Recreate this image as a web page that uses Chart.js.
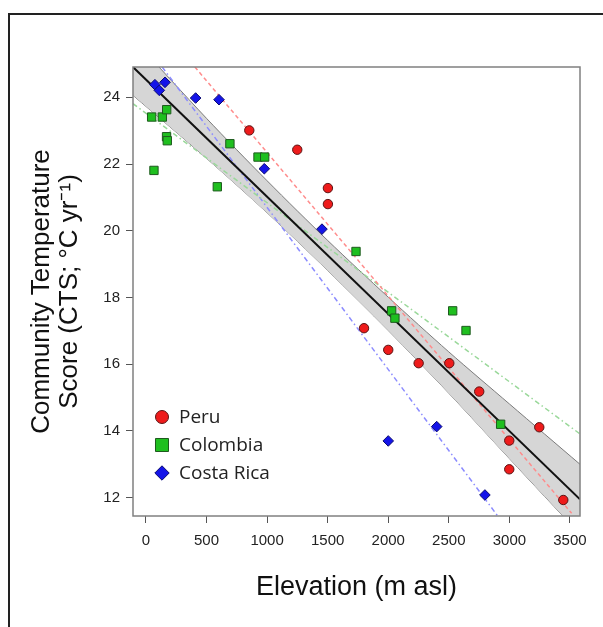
<!DOCTYPE html>
<html>
<head>
<meta charset="utf-8">
<script src="https://cdn.jsdelivr.net/npm/chart.js@4.4.1/dist/chart.umd.min.js"></script>
<style>
    html, body { margin: 0; padding: 0; background: #fff; overflow: hidden; }
    #frame { position: absolute; left: 8px; top: 13px; width: 640px; height: 660px; border: 2px solid #222; }
    #cts { position: absolute; left: 0; top: 0; }
</style>
</head>
<body>
<div id="frame"></div>
<canvas id="cts" width="603" height="627"></canvas>
<script>
// elevation (m asl) / community temperature score
const peruElev = [853, 1249, 1502, 1502, 1800, 2000, 2251, 2504, 2751, 3247, 2999, 2999, 3445];
const peruCts = [23.01, 22.43, 21.28, 20.80, 17.08, 16.43, 16.03, 16.03, 15.18, 14.11, 13.71, 12.85, 11.93];

const colombiaElev = [47, 135, 171, 170, 176, 66, 589, 693, 925, 980, 1734, 2028, 2055, 2532, 2642, 2928];
const colombiaCts = [23.41, 23.41, 23.63, 22.82, 22.70, 21.81, 21.32, 22.61, 22.21, 22.21, 19.38, 17.60, 17.38, 17.60, 17.01, 14.20];

const costaRicaElev = [74, 110, 157, 410, 603, 977, 1453, 2000, 2400, 2798];
const costaRicaCts = [24.38, 24.21, 24.45, 23.98, 23.93, 21.86, 20.05, 13.70, 14.13, 12.08];

// fitted lines (end points) and the confidence band of the pooled fit
const fitElev = [-107, 3583];
const fitCts = [24.91, 11.95];
const peruFitElev = [404, 3514];
const peruFitCts = [24.91, 11.53];
const colombiaFitElev = [-107, 3583];
const colombiaFitCts = [23.81, 13.91];
const costaRicaFitElev = [134, 2908];
const costaRicaFitCts = [24.91, 11.43];

const bandElev = [-107, 500, 1000, 1500, 2000, 2500, 3000, 3583];
const bandUpper = [25.76, 23.37, 21.50, 19.71, 18.01, 16.37, 14.81, 13.00];
const bandLower = [24.06, 22.17, 20.54, 18.81, 17.01, 15.13, 13.17, 10.90];

const xTicks = [0, 500, 1000, 1500, 2000, 2500, 3000, 3500];
const yTicks = [12, 14, 16, 18, 20, 22, 24];
const legendNames = ['Peru', 'Colombia', 'Costa Rica'];

const sans = 'Liberation Sans, Arial, Helvetica, sans-serif';

function pairs(xs, ys) {
    return xs.map((x, i) => ({ x: x, y: ys[i] }));
}

function fitLine(xs, ys, color, dash, width, order) {
    return {
        type: 'line',
        data: pairs(xs, ys),
        borderColor: color,
        borderWidth: width,
        borderDash: dash,
        pointRadius: 0,
        fill: false,
        tension: 0,
        order: order,
    };
}

const insetLegend = {
    id: 'insetLegend',
    afterDatasetsDraw(chart) {
        const ctx = chart.ctx;
        const area = chart.chartArea;
        const radii = [6.5, 9.2, 7.2];
        ctx.save();
        legendNames.forEach((name, i) => {
            const ds = chart.data.datasets[i];
            const cx = area.left + 29;
            const cy = area.bottom - 99 + i * 28;
            ctx.fillStyle = ds.backgroundColor;
            ctx.strokeStyle = ds.borderColor;
            ctx.lineWidth = 1;
            Chart.helpers.drawPoint(ctx, { pointStyle: ds.pointStyle, radius: radii[i], borderWidth: 1, rotation: 0 }, cx, cy);
            ctx.fillStyle = '#222';
            ctx.font = '19px "Open Sans", sans-serif';
            ctx.textAlign = 'left';
            ctx.textBaseline = 'middle';
            ctx.fillText(name, cx + 17, cy + 1);
        });
        ctx.restore();
    },
    afterDraw(chart) {
        const ctx = chart.ctx;
        const a = chart.chartArea;
        ctx.save();
        ctx.strokeStyle = '#808080';
        ctx.lineWidth = 1.5;
        ctx.strokeRect(a.left, a.top, a.right - a.left, a.bottom - a.top);
        ctx.restore();
    }
};

new Chart(document.getElementById('cts'), {
    type: 'scatter',
    data: {
        datasets: [
            {
                label: 'Peru',
                data: pairs(peruElev, peruCts),
                pointStyle: 'circle',
                pointRadius: 4.7,
                backgroundColor: '#ee1b1b',
                borderColor: '#5a1414',
                borderWidth: 1,
                order: 0,
            },
            {
                label: 'Colombia',
                data: pairs(colombiaElev, colombiaCts),
                pointStyle: 'rect',
                pointRadius: 5.9,
                backgroundColor: '#1fbf1f',
                borderColor: '#1e5a1e',
                borderWidth: 1,
                order: 0,
            },
            {
                label: 'Costa Rica',
                data: pairs(costaRicaElev, costaRicaCts),
                pointStyle: 'rectRot',
                pointRadius: 5.3,
                backgroundColor: '#1414e8',
                borderColor: '#0a0a70',
                borderWidth: 1,
                order: 0,
            },
            fitLine(fitElev, fitCts, '#111', [], 2, 1),
            fitLine(peruFitElev, peruFitCts, '#ff8c8c', [4, 3], 1.5, 2),
            fitLine(colombiaFitElev, colombiaFitCts, '#9ad89a', [5, 3, 1.5, 3], 1.5, 2),
            fitLine(costaRicaFitElev, costaRicaFitCts, '#8c8cff', [5, 3, 1.5, 3], 1.5, 2),
            {
                type: 'line',
                data: pairs(bandElev, bandUpper),
                borderColor: '#7a7a7a',
                borderWidth: 1,
                backgroundColor: '#d6d6d6',
                pointRadius: 0,
                fill: '+1',
                tension: 0.3,
                order: 3,
            },
            {
                type: 'line',
                data: pairs(bandElev, bandLower),
                borderColor: '#7a7a7a',
                borderWidth: 1,
                pointRadius: 0,
                fill: false,
                tension: 0.3,
                order: 3,
            }
        ]
    },
    options: {
        responsive: false,
        animation: false,
        layout: {
            padding: { top: 67, right: 23, left: 0, bottom: 0 }
        },
        plugins: {
            legend: { display: false },
            tooltip: { enabled: false },
        },
        scales: {
            x: {
                type: 'linear',
                min: -107,
                max: 3583,
                afterBuildTicks: scale => {
                    scale.ticks = xTicks.map(v => ({ value: v }));
                },
                afterFit: scale => {
                    scale.height = 111;
                },
                ticks: {
                    font: { family: sans, size: 15 },
                    color: '#222',
                    padding: 9,
                    maxRotation: 0,
                    autoSkip: false,
                    callback: v => String(v),
                },
                grid: {
                    drawOnChartArea: false,
                    tickLength: 7,
                    color: '#555',
                },
                border: { display: false },
                title: {
                    display: true,
                    text: 'Elevation (m asl)',
                    color: '#111',
                    font: { family: sans, size: 27, lineHeight: 1.1 },
                    padding: { top: 0, bottom: 25 },
                }
            },
            y: {
                type: 'linear',
                min: 11.45,
                max: 24.91,
                afterBuildTicks: scale => {
                    scale.ticks = yTicks.map(v => ({ value: v }));
                },
                afterFit: scale => {
                    scale.width = 133;
                },
                ticks: {
                    font: { family: sans, size: 15 },
                    color: '#222',
                    padding: 6,
                    autoSkip: false,
                    callback: v => String(v),
                },
                grid: {
                    drawOnChartArea: false,
                    tickLength: 7,
                    color: '#555',
                },
                border: { display: false },
                title: {
                    display: true,
                    text: ['Community Temperature', 'Score (CTS; \u00B0C yr\u207B\u00B9)'],
                    color: '#111',
                    font: { family: sans, size: 26, lineHeight: 1.08 },
                    padding: { top: 28, bottom: 0 },
                }
            }
        }
    },
    plugins: [insetLegend]
});
</script>
</body>
</html>
